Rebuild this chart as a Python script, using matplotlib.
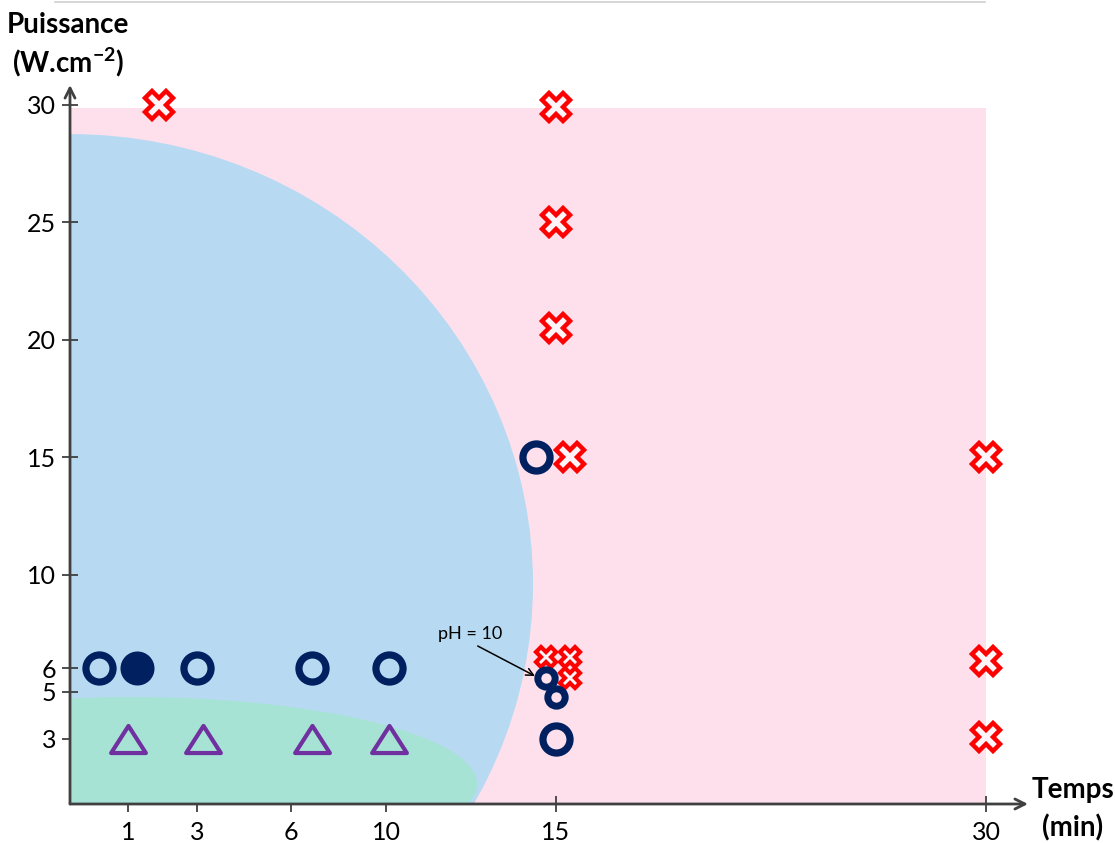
import numpy as np
import matplotlib
matplotlib.use("Agg")
import matplotlib.pyplot as plt
from matplotlib.patches import Ellipse, Rectangle
from matplotlib.markers import MarkerStyle
from matplotlib.lines import Line2D
from matplotlib.path import Path

plt.rcParams['font.family'] = ['Lato', 'DejaVu Sans']
plt.rcParams['mathtext.fontset'] = 'custom'
plt.rcParams['mathtext.rm'] = 'Lato'
plt.rcParams['mathtext.bf'] = 'Lato:bold'

# time axis is stretched unevenly: tick value -> offset along the axis
x_ticks = [1, 3, 6, 10, 15, 30]
x_tick_pos = [58, 127, 221, 316, 486, 916]
y_ticks = [3, 5, 6, 10, 15, 20, 25, 30]

# open circles
ring_t = [0.5, 3.0, 6.9, 10.1, 14.4, 15.0]
ring_p = [6, 6, 6, 6, 15, 3]
# filled circle
dot_t = [1.26]
dot_p = [6]
# small open circles
small_ring_t = [14.7, 15.0]
small_ring_p = [5.6, 4.8]
# triangles
tri_t = [1.0, 3.2, 6.9, 10.1]
tri_p = [3, 3, 3, 3]
# red crosses
cross_t = [1.9, 15.0, 15.0, 15.0, 15.5, 30.0, 30.0, 30.0]
cross_p = [30, 29.9, 25, 20.5, 15, 15, 6.3, 3.1]
small_cross_t = [14.7, 15.5, 15.5]
small_cross_p = [6.5, 6.5, 5.6]

navy = '#002060'
purple = '#7030A0'
red = '#FF0000'
axcol = '#404040'

xs = [0] + x_ticks + [40]
us = [0] + x_tick_pos + [1203]


def fwd(x):
    return np.interp(x, xs, us)


def inv(u):
    return np.interp(u, us, xs)


fig = plt.figure(figsize=(11.15, 8.43), dpi=100)
ax = fig.add_axes([70 / 1115, 39 / 843, 958 / 1115, 719 / 843])
ax.set_xscale('function', functions=(fwd, inv))
ax.set_xlim(0, inv(958))
ax.set_ylim(0.23, 30.84)
ax.set_autoscale_on(False)

# zones, drawn in scaled units (x offset, power)
scaled = ax.transLimits + ax.transAxes
ax.add_patch(Rectangle((0, 0), 916, 29.86, transform=scaled,
                       facecolor='#FDE0EC', edgecolor='none', zorder=0))
ax.add_patch(Ellipse((0, 9.6), 926, 38.3, transform=scaled,
                     facecolor='#B7DAF2', edgecolor='none', zorder=1))
ax.add_patch(Ellipse((60, 1.08), 694, 7.41, transform=scaled,
                     facecolor='#A6E3D4', edgecolor='none', zorder=2))

ax.plot(cross_t, cross_p, ls='none', marker='X', ms=19.5, mew=3.2,
        mfc='#FFF4F8', mec=red, zorder=4)
ax.plot(small_cross_t, small_cross_p, ls='none', marker='X', ms=15, mew=3,
        mfc='#FFF4F8', mec=red, zorder=4)

ax.plot(ring_t, ring_p, ls='none', marker='o', ms=19.5, mew=5.2,
        mfc='none', mec=navy, zorder=5)
ax.plot(small_ring_t, small_ring_p, ls='none', marker='o', ms=12.5, mew=5,
        mfc='none', mec=navy, zorder=5)
ax.plot(dot_t, dot_p, ls='none', marker='o', ms=23.5, mew=1,
        mfc=navy, mec=navy, zorder=5)

tri_path = Path([(-1, -0.78), (1, -0.78), (0, 0.78), (-1, -0.78)],
                closed=True)
tri = MarkerStyle(tri_path, joinstyle='miter')
ax.plot(tri_t, tri_p, ls='none', marker=tri, ms=25, mew=3,
        mfc='none', mec=purple, zorder=5)

ax.annotate('pH = 10', xy=(14.38, 5.68), xytext=(12.47, 7.47),
            fontsize=13, ha='center', va='center', zorder=6,
            arrowprops=dict(arrowstyle='->', color='black', lw=1.1,
                            shrinkA=2, shrinkB=0, relpos=(0.5, 0)))

# axes as arrows
for s in ax.spines.values():
    s.set_visible(False)
arrow = dict(arrowstyle='->', color=axcol, lw=2, shrinkA=0, shrinkB=0,
             mutation_scale=18)
ax.annotate('', xy=(1, 0), xytext=(0, 0), xycoords='axes fraction',
            arrowprops=arrow, zorder=7)
ax.annotate('', xy=(0, 1), xytext=(0, 0), xycoords='axes fraction',
            arrowprops=arrow, zorder=7)

ax.set_xticks(x_ticks)
ax.set_xticklabels([str(v) for v in x_ticks])
ax.set_yticks(y_ticks)
ax.set_yticklabels([str(v) for v in y_ticks])
ax.tick_params(axis='both', direction='inout', length=12, width=1.3,
               color=axcol, labelsize=18, labelcolor='black')
ax.tick_params(axis='x', pad=6)
ax.tick_params(axis='y', pad=4)

ax.text(-0.002, 1.083, 'Puissance', transform=ax.transAxes, ha='center',
        va='center', fontsize=20, fontweight='bold')
ax.text(-0.002, 1.032, r'(W.cm$^{\mathbf{-2}}$)', transform=ax.transAxes,
        ha='center', va='center', fontsize=20, fontweight='bold')
ax.text(1.047, 0.0195, 'Temps', transform=ax.transAxes, ha='center',
        va='center', fontsize=20, fontweight='bold')
ax.text(1.047, -0.0334, '(min)', transform=ax.transAxes, ha='center',
        va='center', fontsize=20, fontweight='bold')

fig.add_artist(Line2D([55 / 1115, 985 / 1115], [1 - 1.5 / 843] * 2,
                      color='#CFCFCF', lw=1.2))

fig.savefig('out.png', dpi=100)
